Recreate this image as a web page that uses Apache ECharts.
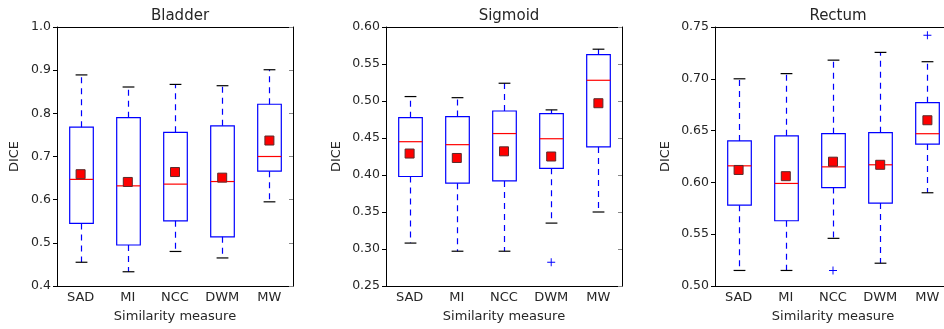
<!DOCTYPE html>
<html>
<head>
<meta charset="utf-8">
<script src="https://cdn.jsdelivr.net/npm/echarts@6/dist/echarts.min.js"></script>
<style>
  html, body { margin: 0; padding: 0; background: #fff; overflow: hidden; }
  #chart { width: 960px; height: 329px; }
</style>
</head>
<body>
<div id="chart"></div>
<script>
const categories = ["SAD", "MI", "NCC", "DWM", "MW"];

const bladderLow = [0.455, 0.433, 0.480, 0.465, 0.595];
const bladderQ1 = [0.545, 0.495, 0.551, 0.514, 0.666];
const bladderMedian = [0.647, 0.632, 0.636, 0.642, 0.700];
const bladderQ3 = [0.768, 0.790, 0.756, 0.771, 0.821];
const bladderHigh = [0.889, 0.861, 0.867, 0.864, 0.901];
const bladderMean = [0.659, 0.641, 0.664, 0.651, 0.737];
const bladderOutliers = [];

const sigmoidLow = [0.308, 0.297, 0.297, 0.335, 0.350];
const sigmoidQ1 = [0.398, 0.389, 0.392, 0.409, 0.438];
const sigmoidMedian = [0.445, 0.441, 0.456, 0.449, 0.528];
const sigmoidQ3 = [0.4775, 0.479, 0.4865, 0.483, 0.5626];
const sigmoidHigh = [0.506, 0.5045, 0.524, 0.488, 0.570];
const sigmoidMean = [0.429, 0.423, 0.432, 0.425, 0.497];
const sigmoidOutliers = [["DWM", 0.282]];

const rectumLow = [0.515, 0.515, 0.546, 0.522, 0.590];
const rectumQ1 = [0.578, 0.563, 0.595, 0.580, 0.637];
const rectumMedian = [0.616, 0.599, 0.615, 0.617, 0.647];
const rectumQ3 = [0.640, 0.645, 0.647, 0.648, 0.677];
const rectumHigh = [0.700, 0.705, 0.718, 0.7255, 0.7165];
const rectumMean = [0.612, 0.606, 0.620, 0.617, 0.660];
const rectumOutliers = [["NCC", 0.515], ["MW", 0.742]];

const panels = [
  { title: "Bladder", left: 57, min: 0.4, max: 1.0, interval: 0.1, digits: 1, nameGap: 36,
    low: bladderLow, q1: bladderQ1, med: bladderMedian, q3: bladderQ3, high: bladderHigh,
    mean: bladderMean, outliers: bladderOutliers },
  { title: "Sigmoid", left: 386, min: 0.25, max: 0.6, interval: 0.05, digits: 2, nameGap: 43,
    low: sigmoidLow, q1: sigmoidQ1, med: sigmoidMedian, q3: sigmoidQ3, high: sigmoidHigh,
    mean: sigmoidMean, outliers: sigmoidOutliers },
  { title: "Rectum", left: 715, min: 0.5, max: 0.75, interval: 0.05, digits: 2, nameGap: 43,
    low: rectumLow, q1: rectumQ1, med: rectumMedian, q3: rectumQ3, high: rectumHigh,
    mean: rectumMean, outliers: rectumOutliers }
];

const gridTop = 27;
const gridW = 236;
const gridH = 259;
const font = "DejaVu Sans";
const textColor = "#262626";

function renderBox(params, api) {
  const idx = api.value(0);
  const lo = api.coord([idx, api.value(1)]);
  const q1 = api.coord([idx, api.value(2)]);
  const med = api.coord([idx, api.value(3)]);
  const q3 = api.coord([idx, api.value(4)]);
  const hi = api.coord([idx, api.value(5)]);
  const x = Math.round(lo[0]) + 0.5;
  const half = api.size([1, 0])[0] * 0.25;
  const cap = half / 2;
  const lw = 1.2;
  return {
    type: "group",
    children: [
      { type: "line", shape: { x1: x, y1: q3[1], x2: x, y2: hi[1] },
        style: { stroke: "#0000ff", lineWidth: lw, lineDash: [6, 5] } },
      { type: "line", shape: { x1: x, y1: q1[1], x2: x, y2: lo[1] },
        style: { stroke: "#0000ff", lineWidth: lw, lineDash: [6, 5] } },
      { type: "line", shape: { x1: x - cap, y1: hi[1], x2: x + cap, y2: hi[1] },
        style: { stroke: "#000", lineWidth: lw } },
      { type: "line", shape: { x1: x - cap, y1: lo[1], x2: x + cap, y2: lo[1] },
        style: { stroke: "#000", lineWidth: lw } },
      { type: "rect", shape: { x: x - half, y: q3[1], width: half * 2, height: q1[1] - q3[1] },
        style: { fill: "none", stroke: "#0000ff", lineWidth: lw } },
      { type: "line", shape: { x1: x - half, y1: med[1], x2: x + half, y2: med[1] },
        style: { stroke: "#ff0000", lineWidth: lw } }
    ]
  };
}

const grid = [];
const xAxis = [];
const yAxis = [];
const title = [];
const series = [];

panels.forEach((p, i) => {
  grid.push({ left: p.left, top: gridTop, width: gridW, height: gridH });
  title.push({
    text: p.title, left: p.left + gridW / 2, top: 4, textAlign: "center",
    textStyle: { fontFamily: font, fontSize: 15, fontWeight: "normal", color: textColor }
  });
  xAxis.push({
    type: "category", gridIndex: i, data: categories, position: "bottom",
    name: "Similarity measure", nameLocation: "middle", nameGap: 24,
    nameTextStyle: { fontFamily: font, fontSize: 13, color: textColor },
    axisLine: { lineStyle: { color: "#000", width: 1 } },
    axisTick: { alignWithLabel: true, length: 4, lineStyle: { color: "#000" } },
    axisLabel: { fontFamily: font, fontSize: 13, color: textColor, margin: 5 },
    splitLine: { show: false }
  });
  yAxis.push({
    type: "value", gridIndex: i, min: p.min, max: p.max, interval: p.interval,
    name: "DICE", nameLocation: "middle", nameGap: p.nameGap,
    nameTextStyle: { fontFamily: font, fontSize: 13, color: textColor },
    axisLine: { show: true, lineStyle: { color: "#000", width: 1 } },
    axisTick: { show: true, length: 4, lineStyle: { color: "#000" } },
    axisLabel: { fontFamily: font, fontSize: 12.5, color: textColor, margin: 6,
      formatter: v => v.toFixed(p.digits) },
    splitLine: { show: false }
  });
});

panels.forEach((p, i) => {
  xAxis.push({
    type: "category", gridIndex: i, data: categories, position: "top",
    axisLine: { lineStyle: { color: "#000", width: 1 } },
    axisTick: { alignWithLabel: true, inside: true, length: 4, lineStyle: { color: "#888" } },
    axisLabel: { show: false }, splitLine: { show: false }
  });
  yAxis.push({
    type: "value", gridIndex: i, min: p.min, max: p.max, interval: p.interval, position: "right",
    axisLine: { show: true, lineStyle: { color: "#000", width: 1 } },
    axisTick: { show: true, inside: true, length: 4, lineStyle: { color: "#888" } },
    axisLabel: { show: false }, splitLine: { show: false }
  });
});

panels.forEach((p, i) => {
  series.push({
    type: "custom", xAxisIndex: i, yAxisIndex: i, renderItem: renderBox,
    encode: { x: 0, y: [1, 2, 3, 4, 5] },
    data: categories.map((c, k) => [k, p.low[k], p.q1[k], p.med[k], p.q3[k], p.high[k]]),
    z: 2
  });
  series.push({
    type: "scatter", xAxisIndex: i, yAxisIndex: i, symbol: "rect", symbolSize: 9,
    itemStyle: { color: "#ff0000", borderColor: "#5a2a2a", borderWidth: 1, opacity: 1 },
    data: categories.map((c, k) => [c, p.mean[k]]),
    z: 3
  });
  series.push({
    type: "scatter", xAxisIndex: i, yAxisIndex: i,
    symbol: "path://M4.4,0H5.6V10H4.4ZM0,4.4H10V5.6H0Z", symbolSize: 8,
    itemStyle: { color: "#0000ff", opacity: 1 },
    data: p.outliers,
    z: 3
  });
});

const chart = echarts.init(document.getElementById("chart"), null, { renderer: "canvas" });
chart.setOption({
  animation: false,
  backgroundColor: "#fff",
  title, grid, xAxis, yAxis, series
});
</script>
</body>
</html>
